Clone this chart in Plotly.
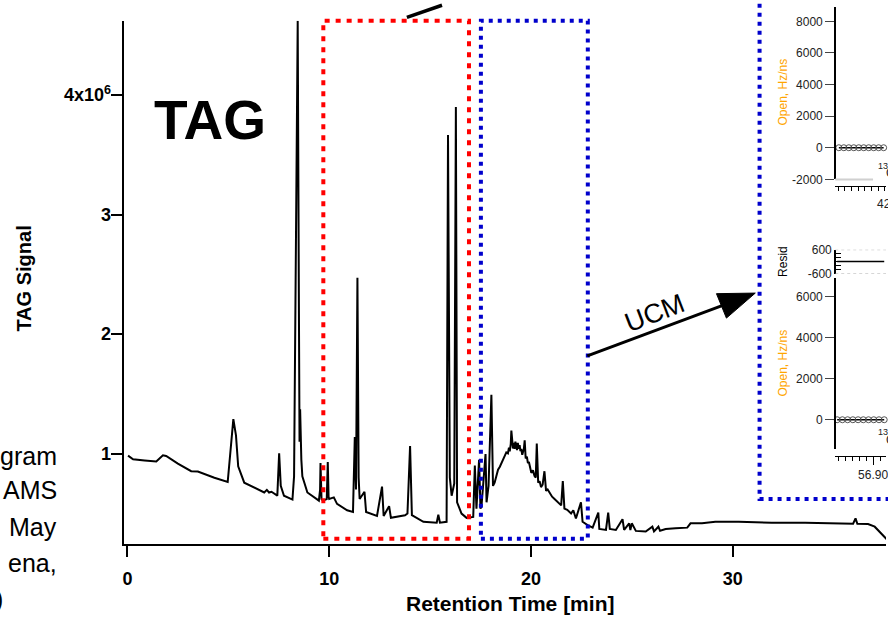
import plotly.graph_objects as go

W, H = 888, 619
FONT = "Liberation Sans, Arial, Helvetica, sans-serif"

# ---------------- main chromatogram (retention time [min], TAG signal [x1e6]) ----------------
time_min = [
    0.03, 0.28, 0.85, 1.43, 1.76, 1.92, 2.50, 3.16, 3.49, 4.31, 4.97, 5.25, 5.38, 5.49, 5.79,
    6.28, 6.78, 6.91, 7.02, 7.14, 7.43, 7.52, 7.60, 7.76, 8.18, 8.26, 8.36, 8.44, 8.50, 8.53,
    8.56, 8.62, 8.67, 8.92, 9.24, 9.49, 9.55, 9.57, 9.62, 9.69, 9.88, 9.93, 9.97, 10.00, 10.23,
    10.39, 10.89, 11.18, 11.27, 11.33, 11.40, 11.46, 11.51, 11.75, 11.83, 12.37, 12.62, 12.70,
    12.97, 13.06, 13.76, 13.88, 14.01, 14.10, 14.67, 15.33, 15.41, 15.49, 15.82, 15.89, 15.98,
    16.07, 16.20, 16.28, 16.34, 16.56, 16.81, 17.14, 17.22, 17.30, 17.43, 17.50, 17.55, 17.75,
    17.80, 17.90, 18.04, 18.12, 18.20, 18.30, 18.37, 18.46, 18.54, 18.62, 18.70, 18.78, 18.86,
    18.91, 18.95, 19.00, 19.03, 19.07, 19.11, 19.15, 19.19, 19.23, 19.27, 19.31, 19.35, 19.40,
    19.44, 19.48, 19.52, 19.57, 19.61, 19.65, 19.69, 19.74, 19.80, 19.85, 19.90, 19.96, 20.02,
    20.10, 20.18, 20.24, 20.29, 20.36, 20.43, 20.50, 20.58, 20.67, 20.75, 20.83, 20.92, 21.05,
    21.17, 21.30, 21.50, 21.58, 21.66, 21.80, 21.99, 22.10, 22.23, 22.48,
    22.56, 22.81, 23.06, 23.34, 23.39, 23.72, 23.83, 23.91, 24.21, 24.54, 24.62, 24.87, 24.93,
    25.00, 25.20, 25.69, 26.02, 26.10, 26.32, 26.40, 26.68, 27.17, 27.75, 27.91, 28.48, 29.14,
    30.30, 31.94, 33.59, 35.97, 36.09, 36.18, 36.71, 37.04, 37.61, 38.00,
]
tag_signal_1e6 = [
    0.983, 0.953, 0.943, 0.934, 0.986, 0.981, 0.916, 0.853, 0.850, 0.798, 0.763, 1.288, 1.153, 0.894, 0.757,
    0.714, 0.675, 0.697, 0.675, 0.681, 0.649, 1.002, 0.730, 0.648, 0.616, 0.812, 2.600, 4.620, 2.200, 1.100,
    1.370, 0.950, 0.810, 0.675, 0.634, 0.607, 0.700, 0.921, 0.620, 0.607, 0.620, 0.929, 0.640, 0.621, 0.634,
    0.580, 0.526, 0.512, 1.139, 0.700, 2.470, 0.800, 0.621, 0.681, 0.512, 0.479, 0.724, 0.479,
    0.561, 0.463, 0.485, 0.499, 1.063, 0.485, 0.430, 0.422, 0.490, 0.422, 0.430, 3.665, 0.800,
    0.648, 0.750, 3.900, 0.593, 0.499, 0.463, 0.471, 0.900, 0.540, 0.948, 0.540, 0.560, 0.997,
    0.593, 0.730, 1.493, 0.730, 0.757, 0.820, 0.866, 0.890, 0.920, 0.950, 0.975, 1.010, 1.002,
    1.050, 1.020, 1.080, 1.193, 1.060, 1.043, 1.090, 1.040, 1.100, 1.071, 1.030, 1.090, 1.040,
    1.071, 1.020, 1.040, 0.990, 1.016, 1.040, 1.112, 0.960, 0.975, 0.920, 0.930, 0.870, 0.839,
    0.860, 0.812, 0.800, 1.084, 0.757, 0.770, 0.720, 0.740, 0.853, 0.689, 0.700, 0.675, 0.640,
    0.621, 0.600, 0.567, 0.771, 0.540, 0.530, 0.499, 0.526, 0.458, 0.593,
    0.430, 0.403, 0.381, 0.507, 0.370, 0.362, 0.507, 0.370, 0.362, 0.452, 0.362, 0.417, 0.360,
    0.417, 0.354, 0.348, 0.389, 0.350, 0.389, 0.355, 0.370, 0.376, 0.381, 0.417, 0.417, 0.430,
    0.430, 0.422, 0.422, 0.414, 0.458, 0.414, 0.411, 0.389, 0.294, 0.220,
]
x_tick_vals = [0, 10, 20, 30]
y_tick_vals = [1, 2, 3, 4]
y_tick_text = ["1", "2", "3", "4x10<sup>6</sup>"]

red_window_min = [9.71, 16.93]
blue_window_min = [17.52, 22.82]

# ---------------- inset 1 (m/z ~ 42.9) ----------------
inset1_mz = [42.742, 42.757, 42.772, 42.787, 42.802, 42.817, 42.832, 42.847, 42.862, 42.877]
inset1_open = [0, 0, 0, 0, 0, 0, 0, 0, 0, 0]
inset1_yticks = [-2000, 0, 2000, 4000, 6000, 8000]
inset1_xticks = [42.74, 42.76, 42.78, 42.80, 42.82, 42.84, 42.86, 42.88]

# ---------------- inset 2 (m/z ~ 56.9) ----------------
inset2_mz = [56.797, 56.812, 56.827, 56.842, 56.857, 56.872, 56.887, 56.902, 56.917, 56.932]
inset2_open = [0, 0, 0, 0, 0, 0, 0, 0, 0, 0]
inset2_resid = [0, 0, 0, 0, 0, 0, 0, 0, 0, 0]
inset2_yticks = [0, 2000, 4000, 6000]
inset2_major = [56.90]
inset2_minor = [56.80, 56.82, 56.84, 56.86, 56.88, 56.92]
resid_ticks = [-600, -400, -200, 0, 200, 400, 600]
resid_ticktext = ["-600", "", "", "", "", "", "600"]


def X(p):
    return p / W


def Y(p):
    return 1 - p / H


fig = go.Figure()

fig.add_trace(go.Scatter(x=time_min, y=tag_signal_1e6, mode="lines",
                         line=dict(color="black", width=2), xaxis="x", yaxis="y",
                         showlegend=False, hoverinfo="skip"))

fig.add_trace(go.Scatter(x=inset1_mz, y=inset1_open, mode="lines+markers",
                         line=dict(color="black", width=1.5),
                         marker=dict(symbol="circle-open", color="#555", size=6, line=dict(width=1)),
                         xaxis="x2", yaxis="y2", showlegend=False, cliponaxis=False))

fig.add_trace(go.Scatter(x=inset2_mz, y=inset2_resid, mode="lines",
                         line=dict(color="black", width=1.5),
                         xaxis="x4", yaxis="y3", showlegend=False))

fig.add_trace(go.Scatter(x=inset2_mz, y=inset2_open, mode="lines+markers",
                         line=dict(color="black", width=1.5),
                         marker=dict(symbol="circle-open", color="#555", size=6, line=dict(width=1)),
                         xaxis="x4", yaxis="y4", showlegend=False, cliponaxis=False))

main_tickfont = dict(family=FONT, size=18, color="black", weight="bold")
inset_tickfont = dict(family=FONT, size=12, color="#222")

fig.update_layout(
    width=W, height=H,
    margin=dict(l=0, r=0, t=0, b=0),
    paper_bgcolor="white", plot_bgcolor="rgba(0,0,0,0)",
    showlegend=False,
    xaxis=dict(domain=[X(123), 1], range=[-0.148, 37.60], anchor="y",
               showline=True, linecolor="black", linewidth=1.5,
               ticks="outside", ticklen=12, tickwidth=1.5, tickcolor="black",
               tickmode="array", tickvals=x_tick_vals, tickfont=main_tickfont,
               ticklabelstandoff=6, showgrid=False, zeroline=False),
    yaxis=dict(domain=[Y(549), Y(14)], range=[0.2477, 4.621], anchor="x",
               showline=True, linecolor="black", linewidth=1.5,
               ticks="outside", ticklen=12, tickwidth=1.5, tickcolor="black",
               tickmode="array", tickvals=y_tick_vals, ticktext=y_tick_text,
               tickfont=dict(family=FONT, size=18, color="black", weight="bold"),
               ticklabelstandoff=-4, showgrid=False, zeroline=False),
    xaxis2=dict(domain=[X(836.7), 1], range=[42.7302, 42.8841], anchor="free", position=Y(182.7),
                showline=True, linecolor="black", linewidth=1.2,
                ticks="outside", ticklen=4, tickcolor="black", tickmode="array",
                tickvals=inset1_xticks, showticklabels=False, showgrid=False, zeroline=False),
    yaxis2=dict(domain=[Y(176.3), 1], range=[-2000, 8908], anchor="free", position=X(836.7),
                showline=True, linecolor="black", linewidth=1.5,
                ticks="outside", ticklen=9, tickcolor="#444", tickmode="array",
                tickvals=inset1_yticks, ticktext=[str(v) for v in inset1_yticks],
                tickfont=inset_tickfont, showgrid=False, zeroline=False),
    xaxis4=dict(domain=[X(836.7), 1], range=[56.7906, 56.9371], anchor="free", position=Y(459),
                showline=True, linecolor="black", linewidth=1.2,
                ticks="outside", ticklen=8, tickcolor="black", tickmode="array",
                tickvals=inset2_major, ticktext=["56.90"], tickfont=inset_tickfont,
                ticklabeloverflow="allow",
                minor=dict(tickmode="array", tickvals=inset2_minor, ticks="outside", ticklen=4, tickcolor="black"),
                showgrid=False, zeroline=False),
    yaxis3=dict(domain=[Y(272.7), Y(248.3)], range=[-600, 600], anchor="free", position=X(836.7),
                showline=True, linecolor="black", linewidth=1.5,
                ticks="inside", ticklen=5, tickcolor="black", tickmode="array",
                tickvals=resid_ticks, ticktext=resid_ticktext,
                tickfont=inset_tickfont, showgrid=False, zeroline=False),
    yaxis4=dict(domain=[Y(452), Y(277)], range=[-1419, 6941], anchor="free", position=X(836.7),
                showline=True, linecolor="black", linewidth=1.5,
                ticks="outside", ticklen=9, tickcolor="#444", tickmode="array",
                tickvals=inset2_yticks, ticktext=[str(v) for v in inset2_yticks],
                tickfont=inset_tickfont, showgrid=False, zeroline=False),
)

shapes = []
# retention windows
shapes.append(dict(type="rect", xref="x", yref="paper", x0=red_window_min[0], x1=red_window_min[1],
                   y0=Y(544), y1=Y(14), line=dict(color="#FF0000", width=4, dash="5px,6px")))
shapes.append(dict(type="rect", xref="x", yref="paper", x0=blue_window_min[0], x1=blue_window_min[1],
                   y0=Y(544), y1=Y(14), line=dict(color="#0000CC", width=4, dash="4px,5px")))
# big inset frame
shapes.append(dict(type="rect", xref="paper", yref="paper", x0=X(761), x1=X(960),
                   y0=Y(503.3), y1=Y(-40), line=dict(color="#0000CC", width=4, dash="4px,5px")))
# inset 1 light frame line
shapes.append(dict(type="line", xref="paper", yref="paper", x0=X(837), x1=X(875),
                   y0=Y(176.5), y1=Y(176.5), line=dict(color="#d0d0d0", width=2)))
# resid dotted limits
for v in (-600, 600):
    shapes.append(dict(type="line", xref="paper", yref="y3", x0=X(837), x1=1, y0=v, y1=v,
                       line=dict(color="#aaa", width=1, dash="dot")))
# UCM arrow
shapes.append(dict(type="line", xref="paper", yref="paper", x0=X(588), y0=Y(357), x1=X(724), y1=Y(305.3),
                   line=dict(color="black", width=3)))
shapes.append(dict(type="path", xref="paper", yref="paper",
                   path=f"M {X(756.7)} {Y(292.7)} L {X(717.7)} {Y(293.3)} L {X(727.7)} {Y(318.3)} Z",
                   fillcolor="black", line=dict(color="black", width=1)))
# arrow leaving the red window (top)
shapes.append(dict(type="line", xref="paper", yref="paper", x0=X(406.7), y0=Y(10.7), x1=X(442), y1=Y(-1.8),
                   line=dict(color="black", width=3.5)))
fig.update_layout(shapes=shapes)


def note(px, py, text, size, color="black", bold=False, angle=0, xanchor="center"):
    f = dict(family=FONT, size=size, color=color)
    if bold:
        f["weight"] = "bold"
    return dict(x=X(px), y=Y(py), xref="paper", yref="paper", text=text, showarrow=False,
                xanchor=xanchor, yanchor="middle", textangle=angle, font=f)


ann = []
ann.append(note(209, 116, "TAG", 55, bold=True))
ann.append(note(510.5, 610, "Retention Time [min]", 21, bold=True))
ann.append(note(22, 278, "TAG Signal", 20, bold=True, angle=-90))
for txt, yy, xr in [("gram", 459, 57), ("AMS", 494, 57), ("May", 532, 57), ("ena,", 569, 57), (")", 606, 3.5)]:
    ann.append(note(xr, yy, txt, 25, xanchor="right"))
ann.append(note(655.7, 313.3, "UCM", 27, angle=-21))
for yy in (86.7, 364):
    ann.append(note(784.3, yy, "Open, Hz/ns", 12, color="#FFA500", angle=-90))
ann.append(note(784.3, 260, "Resid", 12, angle=-90))
for yy13, yyc in ((162.7, 170), (435, 443)):
    ann.append(note(878, yy13, "13", 9, color="#222", xanchor="left"))
    ann.append(note(885.5, yyc, "C", 12, color="#222", xanchor="left"))
ann.append(note(876.5, 201.7, "42.90", 12, color="#222", xanchor="left"))
fig.update_layout(annotations=ann)

fig.write_html("out.html", config={"displayModeBar": False},
               post_script="document.body.style.margin='0';")
